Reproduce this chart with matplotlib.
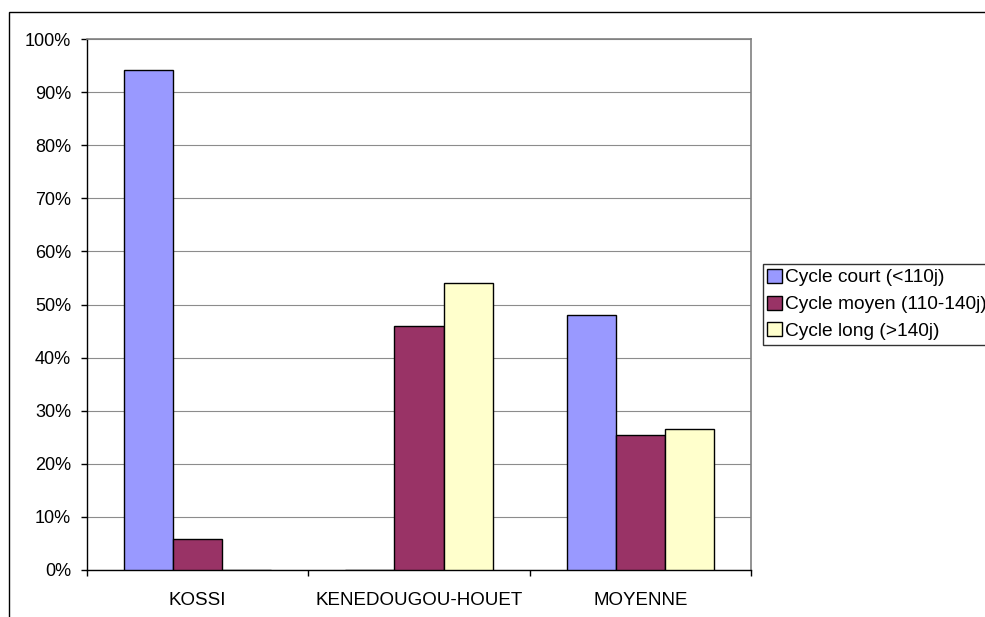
import matplotlib.pyplot as plt
from matplotlib.patches import Rectangle
from matplotlib.ticker import FixedLocator, FuncFormatter

plt.rcParams['font.family'] = ['Liberation Sans', 'DejaVu Sans']

regions = ['KOSSI', 'KENEDOUGOU-HOUET', 'MOYENNE']
cycle_court = [94.2, 0.0, 48.0]
cycle_moyen = [5.8, 46.0, 25.5]
cycle_long = [0.0, 54.0, 26.5]
series_names = ['Cycle court (<110j)', 'Cycle moyen (110-140j)', 'Cycle long (>140j)']
colors = ['#9999FF', '#993366', '#FFFFCC']

W, H = 985, 617
fig = plt.figure(figsize=(W / 100, H / 100), dpi=100)
fig.patch.set_facecolor('white')

# cadre du graphique (bords haut et gauche)
fig.patches.append(Rectangle((9 / W, -0.2), 1.2, 1.2 - 12 / H,
                             transform=fig.transFigure, fill=False,
                             edgecolor='black', linewidth=1.0))

ax = fig.add_axes([87 / W, (H - 570) / H, (751 - 87) / W, (570 - 39) / H])

x = list(range(len(regions)))
w = 0.222
series = [cycle_court, cycle_moyen, cycle_long]
for k, (vals, nom, c) in enumerate(zip(series, series_names, colors)):
    pos = [xi + (k - 1) * w for xi in x]
    ax.bar(pos, vals, width=w, color=c, edgecolor='black', linewidth=1.0,
           label=nom, zorder=3)

ax.set_xlim(-0.5, 2.5)
ax.set_ylim(0, 100)
ax.set_yticks(range(0, 101, 10))
ax.yaxis.set_major_formatter(FuncFormatter(lambda v, p: f'{int(v)}%'))
ax.grid(axis='y', color='#8c8c8c', linewidth=0.8, zorder=0)

ax.set_xticks(x)
ax.set_xticklabels(regions)
ax.xaxis.set_minor_locator(FixedLocator([-0.5, 0.5, 1.5, 2.5]))
ax.tick_params(axis='x', which='major', length=0, pad=15.5, labelsize=13.5)
ax.tick_params(axis='x', which='minor', length=4.5, width=1, color='black')
ax.tick_params(axis='y', length=4.5, width=1, pad=7, labelsize=13)

for s in ['top', 'right']:
    ax.spines[s].set_color('#808080')
    ax.spines[s].set_linewidth(1.2)
for s in ['left', 'bottom']:
    ax.spines[s].set_color('black')
    ax.spines[s].set_linewidth(1.0)

leg = fig.legend(loc='upper left', bbox_to_anchor=(762.7 / W, 1 - 264 / H),
                 frameon=True, fancybox=False, shadow=False, fontsize=13.8,
                 handlelength=0.75, handleheight=0.75, handletextpad=0.15,
                 borderpad=0.25, labelspacing=0.47, borderaxespad=0)
leg.get_frame().set_edgecolor('black')
leg.get_frame().set_linewidth(1.0)

fig.savefig('out.png', dpi=100)
